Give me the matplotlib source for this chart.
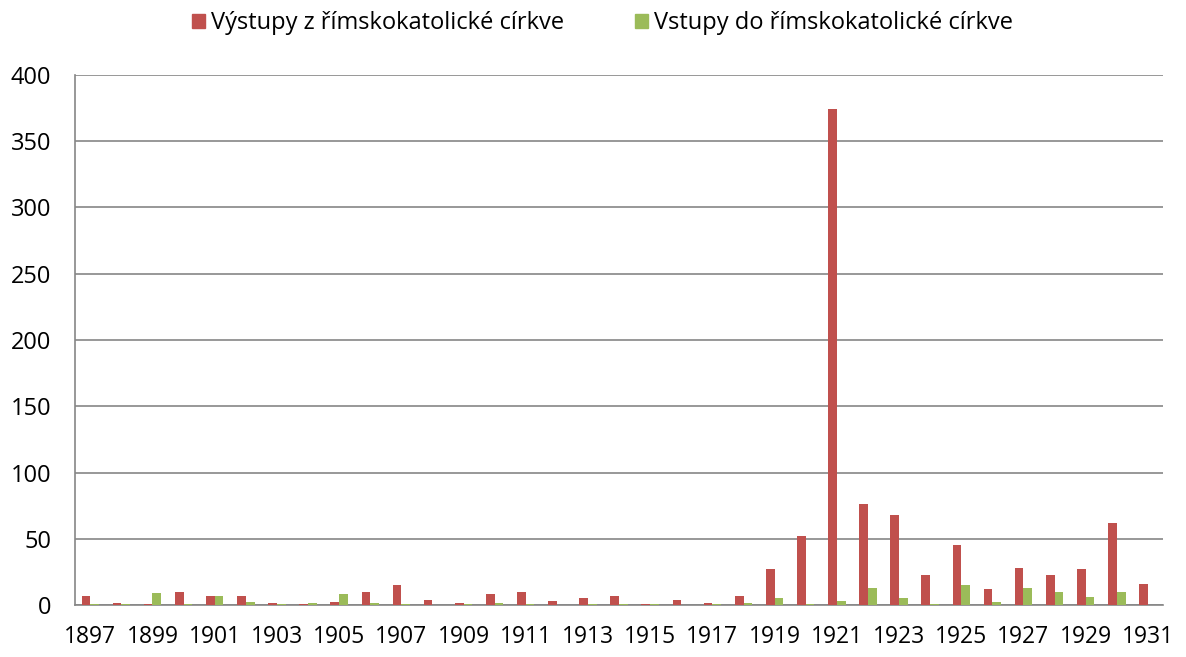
import numpy as np
import matplotlib
matplotlib.use("Agg")
import matplotlib.pyplot as plt
from matplotlib.patches import Patch

years = list(range(1897, 1932))
vystupy = [7, 1.5, 0.5, 10, 7, 7, 1.5, 0.5, 2.5, 10, 15, 4, 1.5, 8, 10, 3, 5, 7,
           0.5, 4, 1.5, 7, 27, 52, 374, 76, 68, 23, 45, 12, 28, 23, 27, 62, 16]
vstupy = [0.5, 0.5, 9, 0.5, 7, 2.5, 0.5, 1.5, 8, 1.5, 0.5, 0, 0.5, 1.5, 0.5, 0, 0.5, 0.5,
          0.5, 0, 0.5, 1.5, 5, 0.5, 3, 13, 5, 0.5, 15, 2, 13, 10, 6, 10, 0]
labels = ["Výstupy z římskokatolické církve", "Vstupy do římskokatolické církve"]
colors = ["#C0504D", "#9BBB59"]

plt.rcParams["font.family"] = ["Open Sans", "DejaVu Sans"]

fig = plt.figure(figsize=(11.86, 6.57), dpi=100)
ax = fig.add_axes([0.063, 0.079, 0.918, 0.807])

x = np.arange(len(years))
w = 0.28
ax.bar(x - w / 2, vystupy, w, color=colors[0], zorder=3)
ax.bar(x + w / 2, vstupy, w, color=colors[1], zorder=3)

ax.set_xlim(-0.5, len(years) - 0.5)
ax.set_ylim(0, 400)
ax.set_yticks(range(0, 401, 50))
ax.set_xticks(x[::2])
ax.set_xticklabels([str(y) for y in years[::2]])
ax.tick_params(axis="both", length=0, labelsize=17)
ax.tick_params(axis="x", labelsize=16.5, pad=14)
ax.tick_params(axis="y", pad=17)

ax.grid(axis="y", color="#868686", linewidth=1.2, zorder=0)
for s in ["top", "right"]:
    ax.spines[s].set_visible(False)
for s in ["left", "bottom"]:
    ax.spines[s].set_color("#868686")
    ax.spines[s].set_linewidth(1.2)

handles = [Patch(color=c, label=l) for c, l in zip(colors, labels)]
fig.legend(handles=handles, loc="upper center", bbox_to_anchor=(0.508, 1.015), ncol=2,
           frameon=False, fontsize=17, handlelength=0.55, handleheight=0.55,
           handletextpad=0.25, columnspacing=3.0)

fig.savefig("out.png", dpi=100)
